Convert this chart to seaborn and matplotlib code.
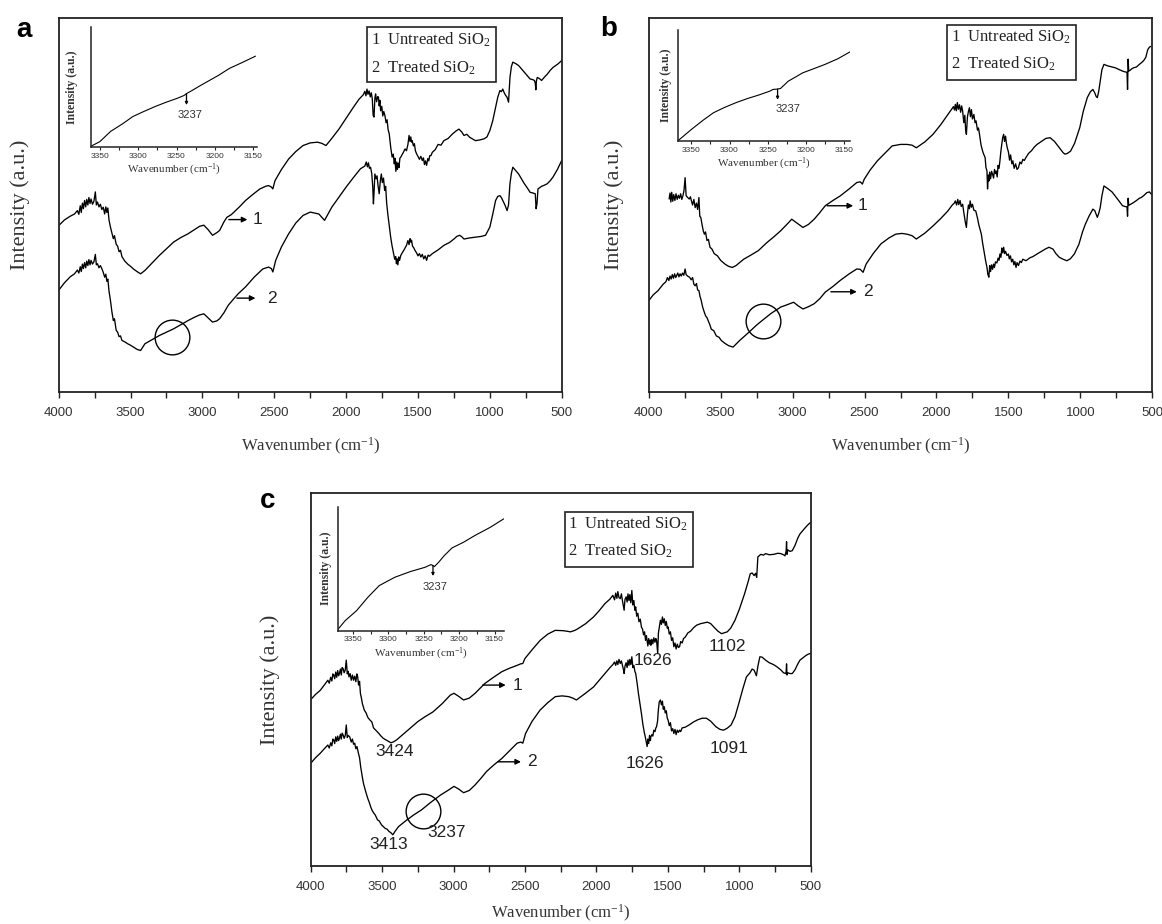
import matplotlib
matplotlib.use('Agg')
import matplotlib.pyplot as plt
import seaborn as sns
from matplotlib.patches import Rectangle
from matplotlib.ticker import MultipleLocator

# ---------------- data (wavenumber in cm-1, intensity in a.u.) ----------------
# panel a
A1_WN = [4000, 3960, 3920, 3890, 3870, 3860, 3850, 3843, 3835, 3828,
         3820, 3812, 3805, 3797, 3790, 3782, 3775, 3765, 3755, 3745,
         3738, 3730, 3720, 3710, 3700, 3690, 3680, 3672, 3665, 3658,
         3650, 3640, 3630, 3620, 3612, 3600, 3590, 3580, 3570, 3560,
         3540, 3520, 3500, 3480, 3455, 3430, 3400, 3350, 3300, 3250,
         3200, 3150, 3100, 3060, 3020, 2990, 2960, 2930, 2900, 2880,
         2850, 2830, 2800, 2780, 2740, 2700, 2650, 2600, 2560, 2540,
         2520, 2510, 2495, 2450, 2400, 2350, 2300, 2250, 2200, 2170,
         2140, 2100, 2050, 2000, 1950, 1910, 1880, 1870, 1862, 1855,
         1848, 1840, 1832, 1825, 1818, 1812, 1806, 1800, 1795, 1788,
         1780, 1775, 1770, 1765, 1760, 1752, 1745, 1738, 1730, 1722,
         1715, 1708, 1700, 1690, 1680, 1672, 1665, 1660, 1654, 1648,
         1643, 1638, 1632, 1626, 1620, 1610, 1600, 1590, 1580, 1570,
         1562, 1556, 1550, 1545, 1540, 1532, 1525, 1518, 1510, 1500,
         1490, 1480, 1470, 1462, 1455, 1448, 1440, 1432, 1425, 1418,
         1410, 1400, 1380, 1360, 1340, 1320, 1290, 1260, 1235, 1215,
         1195, 1180, 1160, 1140, 1100, 1070, 1040, 1020, 1000, 980,
         960, 945, 930, 920, 910, 900, 890, 880, 870, 860,
         850, 840, 820, 800, 780, 760, 740, 720, 700, 690,
         684, 680, 676, 670, 655, 640, 620, 600, 580, 560,
         530, 500]
A1_INT = [44.5, 46.0, 47.0, 47.6, 48.5, 47.5, 49.8, 48.0, 50.5, 49.0,
          51.2, 49.5, 51.5, 50.0, 52.0, 50.4, 51.6, 50.2, 51.0, 53.5,
          50.0, 50.8, 49.5, 50.2, 48.8, 49.4, 47.6, 49.5, 48.0, 49.2,
          46.0, 44.1, 42.5, 41.0, 41.8, 39.5, 39.0, 37.5, 37.9, 36.2,
          35.0, 34.2, 33.6, 32.9, 32.2, 31.6, 32.5, 34.5, 36.5, 38.3,
          40.1, 41.3, 42.3, 43.3, 44.3, 44.6, 43.4, 41.9, 42.6, 43.2,
          45.5, 46.7, 47.4, 48.1, 49.6, 51.2, 52.8, 54.3, 55.0, 55.2,
          54.8, 54.3, 56.5, 59.5, 62.3, 64.3, 65.9, 66.6, 66.8, 66.5,
          65.9, 67.8, 70.3, 73.2, 76.1, 78.3, 79.5, 80.4, 79.2, 81.0,
          79.6, 80.5, 78.9, 80.0, 78.4, 74.0, 73.5, 78.5, 79.7, 77.6,
          79.0, 78.8, 76.5, 78.0, 75.2, 76.4, 73.8, 75.0, 73.9, 72.0,
          72.8, 70.2, 69.0, 65.5, 62.8, 63.6, 61.0, 62.5, 59.0, 61.5,
          59.5, 61.2, 60.0, 62.5, 62.8, 63.5, 64.2, 65.0, 64.5, 66.2,
          68.6, 67.0, 68.2, 66.8, 67.2, 65.8, 66.4, 64.5, 63.7, 63.0,
          62.2, 63.0, 61.9, 62.6, 60.8, 61.8, 60.6, 62.4, 61.8, 63.2,
          63.2, 64.1, 64.8, 66.2, 66.0, 67.2, 67.8, 69.0, 69.8, 70.3,
          69.5, 68.6, 68.9, 68.1, 67.2, 67.4, 67.7, 68.2, 69.9, 72.5,
          76.1, 78.8, 80.6, 80.3, 81.0, 80.0, 79.3, 78.8, 77.5, 84.1,
          87.0, 88.2, 87.8, 87.3, 86.4, 85.5, 84.6, 83.7, 83.5, 83.3,
          82.6, 80.8, 83.2, 84.1, 83.8, 83.3, 84.2, 85.0, 86.0, 86.8,
          87.6, 88.6]

A2_WN = [4000, 3960, 3920, 3890, 3870, 3860, 3850, 3843, 3835, 3828,
         3820, 3812, 3805, 3797, 3790, 3782, 3775, 3765, 3755, 3745,
         3738, 3730, 3720, 3710, 3700, 3690, 3680, 3672, 3665, 3658,
         3650, 3640, 3630, 3620, 3612, 3600, 3590, 3580, 3570, 3560,
         3540, 3520, 3500, 3480, 3455, 3430, 3400, 3350, 3300, 3250,
         3200, 3150, 3100, 3060, 3020, 2990, 2960, 2930, 2900, 2880,
         2850, 2820, 2780, 2750, 2700, 2640, 2580, 2540, 2520, 2510,
         2490, 2450, 2400, 2350, 2300, 2250, 2190, 2150, 2100, 2050,
         2000, 1950, 1900, 1870, 1860, 1852, 1845, 1838, 1830, 1822,
         1815, 1810, 1805, 1800, 1792, 1785, 1778, 1770, 1762, 1755,
         1748, 1740, 1732, 1725, 1718, 1710, 1700, 1690, 1680, 1670,
         1662, 1655, 1650, 1645, 1640, 1634, 1628, 1620, 1610, 1600,
         1590, 1580, 1570, 1562, 1555, 1550, 1545, 1538, 1530, 1520,
         1510, 1500, 1490, 1480, 1470, 1460, 1450, 1440, 1430, 1420,
         1400, 1360, 1320, 1280, 1250, 1230, 1210, 1195, 1180, 1140,
         1100, 1060, 1030, 1000, 980, 960, 945, 930, 920, 910,
         895, 880, 870, 860, 850, 840, 820, 800, 780, 760,
         740, 720, 700, 684, 678, 672, 665, 640, 620, 600,
         580, 560, 530, 500]
A2_INT = [27.2, 29.2, 30.8, 31.6, 32.6, 31.8, 33.5, 32.2, 34.2, 33.0,
          34.6, 33.2, 35.0, 33.8, 35.4, 34.0, 35.2, 34.2, 34.8, 36.8,
          34.0, 34.3, 33.2, 33.8, 33.0, 32.0, 30.7, 31.5, 29.6, 30.2,
          27.0, 24.5, 21.5, 19.1, 19.6, 16.5, 16.0, 14.8, 15.0, 13.8,
          13.4, 12.9, 12.5, 12.0, 11.4, 11.1, 12.9, 14.0, 15.1, 16.0,
          16.9, 18.0, 19.1, 19.9, 20.6, 20.9, 19.8, 18.7, 19.0, 19.6,
          21.2, 23.2, 25.0, 26.3, 28.1, 30.7, 32.9, 33.4, 33.0, 32.1,
          35.2, 38.8, 42.3, 45.2, 47.2, 48.1, 47.6, 45.9, 49.4, 52.1,
          54.8, 57.3, 59.7, 60.4, 61.5, 60.2, 61.3, 59.8, 60.1, 58.5,
          55.0, 50.3, 54.0, 58.3, 57.0, 57.8, 55.2, 53.0, 56.5, 58.3,
          56.0, 57.2, 53.9, 55.0, 50.5, 47.6, 44.5, 41.4, 39.0, 37.0,
          35.5, 36.2, 34.3, 35.6, 34.0, 36.1, 35.2, 36.5, 37.2, 37.8,
          38.5, 39.2, 40.5, 39.4, 41.0, 40.1, 40.6, 39.0, 38.6, 37.8,
          37.2, 36.4, 37.0, 36.1, 36.8, 35.6, 36.4, 35.2, 36.6, 36.3,
          37.0, 38.0, 39.2, 40.0, 40.9, 41.6, 41.9, 41.5, 40.9, 41.2,
          41.4, 41.6, 41.9, 44.1, 47.5, 51.2, 52.3, 52.5, 52.0, 51.2,
          50.0, 48.5, 50.0, 55.7, 58.5, 60.1, 59.2, 58.3, 57.0, 55.7,
          54.6, 53.4, 53.2, 53.0, 49.0, 50.3, 54.3, 55.0, 55.3, 55.7,
          56.5, 57.5, 59.5, 61.9]

A_INSET_WN = [3362, 3350, 3336, 3320, 3307, 3292, 3278, 3264, 3249, 3240,
              3237, 3230, 3220, 3210, 3195, 3181, 3165, 3147]
A_INSET_INT = [0.5, 4.5, 13.0, 19.5, 25.4, 29.8, 33.7, 37.2, 40.6, 43.0,
               44.5, 47.0, 50.8, 54.4, 59.8, 65.5, 70.2, 75.7]

# panel b
B1_WN = [3858, 3852, 3846, 3840, 3833, 3826, 3818, 3810, 3802, 3794,
         3786, 3778, 3770, 3762, 3755, 3747, 3740, 3729, 3718, 3710,
         3703, 3695, 3686, 3677, 3668, 3660, 3651, 3645, 3638, 3628,
         3620, 3613, 3605, 3595, 3585, 3574, 3560, 3545, 3522, 3500,
         3470, 3445, 3419, 3393, 3340, 3290, 3238, 3180, 3130, 3083,
         3040, 3006, 2970, 2928, 2890, 2850, 2810, 2773, 2720, 2670,
         2610, 2554, 2530, 2515, 2502, 2460, 2411, 2360, 2308, 2250,
         2205, 2170, 2140, 2080, 2024, 1970, 1921, 1895, 1882, 1875,
         1869, 1862, 1855, 1848, 1840, 1832, 1825, 1818, 1810, 1803,
         1797, 1792, 1785, 1778, 1771, 1764, 1757, 1750, 1740, 1732,
         1725, 1715, 1708, 1701, 1690, 1680, 1672, 1662, 1656, 1649,
         1645, 1640, 1636, 1630, 1624, 1617, 1610, 1603, 1597, 1590,
         1585, 1578, 1572, 1565, 1559, 1552, 1546, 1540, 1533, 1527,
         1520, 1514, 1508, 1500, 1492, 1485, 1476, 1469, 1460, 1450,
         1440, 1430, 1420, 1410, 1400, 1390, 1378, 1360, 1340, 1320,
         1301, 1270, 1240, 1210, 1180, 1146, 1120, 1107, 1090, 1068,
         1040, 1004, 980, 952, 930, 913, 900, 890, 882, 872,
         862, 850, 836, 810, 780, 758, 730, 707, 690, 676,
         672, 668, 664, 655, 640, 629, 610, 590, 577, 560,
         545, 532, 520, 512]
B1_INT = [51.6, 53.2, 50.8, 53.4, 51.0, 52.8, 51.2, 53.0, 51.5, 52.6,
          51.8, 53.0, 51.5, 52.5, 53.8, 57.3, 52.5, 52.0, 51.6, 52.2,
          51.1, 50.0, 51.5, 49.3, 50.5, 48.8, 52.0, 47.0, 46.7, 44.5,
          43.0, 42.2, 42.8, 40.5, 40.8, 38.7, 38.2, 37.0, 36.4, 35.2,
          34.2, 33.6, 33.3, 33.8, 35.5, 36.6, 37.8, 39.9, 41.5, 43.1,
          44.8, 46.2, 45.2, 44.0, 44.8, 46.2, 48.0, 49.8, 51.2, 52.4,
          54.2, 56.0, 56.2, 55.6, 56.9, 59.4, 61.8, 63.8, 65.8, 66.2,
          66.2, 66.0, 65.3, 66.9, 68.9, 71.5, 74.2, 75.6, 76.3, 75.4,
          76.9, 75.2, 77.4, 75.6, 76.8, 74.8, 76.5, 75.1, 72.0, 74.0,
          70.0, 68.9, 73.5, 75.0, 76.0, 73.6, 75.5, 73.0, 74.2, 72.0,
          72.5, 70.0, 70.6, 68.9, 66.0, 64.5, 63.6, 62.7, 60.0, 59.1,
          54.3, 58.0, 56.4, 58.8, 57.0, 59.0, 58.2, 57.2, 59.5, 58.4,
          59.1, 57.5, 60.6, 59.8, 61.8, 64.5, 66.2, 68.0, 68.9, 67.0,
          68.4, 66.5, 65.3, 64.2, 62.0, 63.4, 61.0, 61.8, 59.8, 61.0,
          59.5, 60.0, 61.5, 61.0, 62.2, 61.9, 62.7, 63.8, 64.5, 65.5,
          66.2, 67.0, 67.8, 68.0, 67.0, 65.3, 64.0, 63.6, 63.8, 64.4,
          66.5, 70.7, 75.0, 78.7, 80.3, 80.9, 80.0, 79.0, 78.7, 80.5,
          83.1, 86.2, 87.6, 87.2, 86.9, 86.7, 86.2, 85.8, 85.6, 85.5,
          80.9, 89.0, 85.8, 86.0, 86.5, 86.7, 86.9, 87.6, 88.0, 88.6,
          89.5, 91.5, 92.2, 92.4]

B2_WN = [4000, 3968, 3935, 3900, 3880, 3870, 3860, 3852, 3844, 3836,
         3828, 3820, 3812, 3806, 3798, 3790, 3782, 3774, 3765, 3756,
         3747, 3740, 3730, 3716, 3705, 3695, 3686, 3677, 3668, 3660,
         3651, 3643, 3635, 3625, 3615, 3605, 3595, 3587, 3575, 3565,
         3548, 3530, 3510, 3496, 3470, 3445, 3430, 3414, 3390, 3367,
         3300, 3250, 3212, 3150, 3083, 3040, 2993, 2960, 2928, 2890,
         2850, 2810, 2773, 2720, 2670, 2610, 2554, 2530, 2510, 2489,
         2440, 2386, 2330, 2283, 2240, 2205, 2170, 2140, 2080, 2024,
         1970, 1921, 1890, 1876, 1869, 1860, 1852, 1845, 1836, 1828,
         1818, 1810, 1800, 1792, 1785, 1778, 1771, 1766, 1758, 1750,
         1740, 1727, 1715, 1705, 1697, 1688, 1680, 1672, 1665, 1658,
         1649, 1643, 1636, 1630, 1624, 1617, 1610, 1603, 1597, 1590,
         1580, 1572, 1565, 1559, 1552, 1546, 1540, 1533, 1527, 1520,
         1510, 1500, 1494, 1486, 1478, 1470, 1462, 1455, 1447, 1440,
         1430, 1420, 1410, 1400, 1378, 1350, 1330, 1301, 1270, 1240,
         1218, 1190, 1170, 1146, 1120, 1094, 1070, 1042, 1010, 985,
         965, 940, 913, 900, 890, 882, 872, 862, 850, 836,
         810, 780, 758, 730, 707, 690, 676, 672, 668, 664,
         650, 629, 610, 590, 577, 560, 538, 520, 510, 500]
B2_INT = [24.4, 26.0, 27.1, 28.8, 29.5, 30.6, 29.8, 31.0, 30.2, 31.4,
          30.4, 31.6, 30.6, 31.1, 31.8, 30.8, 31.6, 31.0, 31.8, 31.2,
          32.9, 31.4, 31.0, 30.7, 30.0, 30.6, 28.8, 28.4, 29.0, 27.3,
          27.1, 25.5, 24.5, 22.7, 21.5, 20.4, 19.9, 19.1, 18.0, 16.8,
          16.4, 15.0, 14.6, 13.8, 13.0, 12.4, 12.2, 12.0, 12.9, 13.8,
          16.1, 17.9, 19.1, 21.0, 22.7, 23.3, 24.0, 23.0, 22.2, 22.8,
          23.6, 25.0, 26.7, 28.2, 29.8, 31.5, 32.9, 32.8, 32.0, 34.2,
          37.0, 39.6, 41.2, 42.2, 42.4, 42.2, 41.8, 40.9, 42.5, 44.4,
          46.4, 48.4, 50.0, 50.5, 51.1, 50.0, 51.5, 50.1, 51.2, 49.6,
          50.2, 48.0, 45.5, 44.0, 47.5, 50.0, 49.0, 51.1, 49.4, 50.2,
          48.6, 48.4, 46.5, 44.6, 43.5, 42.2, 40.0, 38.2, 36.5, 35.0,
          33.3, 31.5, 30.7, 33.8, 32.2, 34.0, 32.8, 34.2, 33.3, 34.8,
          34.5, 35.8, 35.2, 36.9, 36.0, 38.5, 37.2, 38.7, 37.0, 37.6,
          36.5, 36.9, 35.6, 36.4, 34.8, 35.5, 34.0, 34.9, 33.3, 34.6,
          33.8, 35.0, 34.6, 35.5, 35.1, 35.9, 36.2, 36.9, 37.6, 38.3,
          38.7, 38.2, 37.0, 36.0, 35.5, 35.1, 35.6, 36.9, 39.5, 42.8,
          44.9, 47.0, 48.9, 48.5, 47.5, 46.7, 47.8, 49.3, 52.5, 55.1,
          54.4, 53.5, 52.4, 51.0, 49.8, 49.6, 49.5, 47.0, 51.8, 49.9,
          50.2, 50.7, 51.2, 51.8, 52.0, 52.5, 53.3, 53.5, 53.0, 52.9]

B_INSET_WN = [3367, 3350, 3335, 3321, 3307, 3292, 3277, 3262, 3247, 3243,
              3237, 3233, 3223, 3213, 3204, 3190, 3175, 3158, 3142]
B_INSET_INT = [0.6, 10.4, 18.5, 25.4, 30.0, 34.3, 38.0, 41.2, 44.8, 46.3,
               46.6, 47.2, 53.7, 57.6, 61.2, 64.8, 68.7, 73.8, 80.0]

# panel c
C1_WN = [4000, 3966, 3933, 3905, 3880, 3870, 3860, 3852, 3845, 3839,
         3832, 3825, 3818, 3811, 3805, 3799, 3792, 3786, 3780, 3773,
         3766, 3758, 3751, 3744, 3738, 3732, 3724, 3716, 3708, 3700,
         3692, 3684, 3677, 3671, 3665, 3658, 3652, 3645, 3638, 3625,
         3612, 3600, 3585, 3572, 3560, 3545, 3525, 3510, 3492, 3465,
         3438, 3418, 3398, 3350, 3304, 3250, 3200, 3144, 3080, 3023,
         2997, 2965, 2930, 2890, 2849, 2815, 2782, 2720, 2662, 2610,
         2555, 2530, 2515, 2501, 2450, 2394, 2340, 2288, 2230, 2181,
         2150, 2127, 2075, 2020, 1980, 1940, 1905, 1885, 1873, 1865,
         1857, 1850, 1842, 1833, 1825, 1818, 1810, 1806, 1800, 1792,
         1785, 1779, 1772, 1766, 1759, 1752, 1745, 1738, 1731, 1725,
         1718, 1710, 1702, 1693, 1685, 1677, 1670, 1663, 1656, 1650,
         1645, 1640, 1634, 1628, 1622, 1619, 1612, 1605, 1598, 1590,
         1584, 1579, 1575, 1571, 1566, 1560, 1552, 1545, 1538, 1532,
         1525, 1518, 1511, 1504, 1498, 1490, 1482, 1474, 1466, 1458,
         1450, 1442, 1434, 1426, 1418, 1410, 1400, 1390, 1378, 1360,
         1340, 1320, 1298, 1270, 1245, 1223, 1200, 1178, 1150, 1124,
         1100, 1084, 1060, 1030, 1000, 963, 940, 923, 910, 896,
         886, 878, 870, 850, 830, 816, 790, 760, 730, 709,
         690, 680, 672, 669, 666, 660, 645, 629, 610, 590,
         575, 555, 535, 518, 500]
C1_INT = [44.6, 46.0, 47.1, 48.5, 49.8, 49.0, 50.6, 49.6, 51.5, 51.2,
          50.2, 52.0, 50.6, 52.4, 51.0, 51.6, 52.8, 51.2, 53.2, 52.9,
          51.8, 52.6, 55.2, 51.5, 52.2, 50.7, 51.6, 49.8, 51.2, 49.8,
          50.9, 49.4, 51.5, 50.7, 48.5, 49.5, 46.3, 45.0, 43.5, 41.8,
          41.0, 39.8, 39.1, 38.6, 37.0, 36.4, 35.6, 34.9, 34.2, 33.6,
          33.0, 33.3, 33.8, 35.4, 36.9, 38.7, 40.0, 41.3, 43.5, 45.8,
          46.3, 45.5, 44.5, 45.0, 46.3, 47.6, 48.9, 50.6, 52.1, 53.0,
          53.8, 54.2, 54.3, 55.6, 58.0, 60.5, 62.2, 63.2, 63.1, 62.8,
          63.2, 63.7, 65.0, 66.8, 68.5, 70.4, 71.6, 72.6, 71.4, 73.2,
          71.8, 73.6, 72.0, 71.7, 73.0, 71.2, 69.5, 68.6, 71.5, 72.2,
          70.8, 73.0, 71.2, 72.8, 70.6, 73.9, 70.0, 71.2, 68.6, 69.5,
          67.0, 67.8, 65.5, 66.2, 64.1, 63.5, 62.0, 62.8, 60.5, 61.8,
          60.5, 59.0, 61.0, 59.5, 60.6, 59.2, 60.8, 59.6, 61.2, 60.0,
          61.0, 60.5, 58.6, 57.0, 62.5, 64.0, 65.9, 64.8, 66.8, 65.2,
          66.3, 64.5, 65.6, 63.8, 64.1, 62.2, 62.8, 60.5, 61.2, 58.8,
          59.8, 58.2, 59.5, 58.6, 58.8, 60.2, 59.8, 61.0, 61.4, 62.5,
          63.0, 63.9, 64.6, 65.0, 65.2, 65.4, 65.0, 64.1, 63.0, 62.3,
          62.6, 62.8, 63.8, 65.9, 68.8, 73.0, 76.0, 78.4, 78.6, 77.9,
          78.5, 77.4, 82.9, 83.6, 83.4, 83.8, 83.5, 83.6, 83.9, 83.8,
          83.5, 83.2, 84.5, 87.0, 83.6, 84.8, 84.4, 84.6, 86.0, 88.0,
          89.1, 90.0, 90.9, 91.6, 92.2]

C2_WN = [4000, 3966, 3933, 3905, 3880, 3870, 3860, 3852, 3845, 3839,
         3832, 3825, 3818, 3811, 3805, 3799, 3792, 3786, 3780, 3773,
         3766, 3758, 3751, 3744, 3738, 3727, 3716, 3708, 3700, 3692,
         3684, 3676, 3666, 3658, 3650, 3639, 3630, 3620, 3612, 3600,
         3590, 3580, 3572, 3560, 3548, 3532, 3520, 3505, 3492, 3478,
         3465, 3452, 3440, 3425, 3410, 3385, 3330, 3280, 3224, 3160,
         3090, 3040, 2997, 2965, 2930, 2890, 2849, 2810, 2769, 2720,
         2662, 2610, 2555, 2530, 2515, 2496, 2450, 2394, 2340, 2288,
         2240, 2194, 2165, 2140, 2080, 2020, 1980, 1940, 1905, 1885,
         1873, 1865, 1857, 1850, 1842, 1833, 1825, 1818, 1810, 1806,
         1800, 1792, 1785, 1779, 1772, 1766, 1759, 1752, 1745, 1738,
         1731, 1725, 1715, 1705, 1695, 1685, 1675, 1665, 1658, 1651,
         1645, 1640, 1634, 1628, 1622, 1619, 1612, 1605, 1598, 1590,
         1584, 1579, 1572, 1566, 1560, 1552, 1545, 1538, 1532, 1525,
         1518, 1511, 1504, 1498, 1490, 1482, 1474, 1466, 1458, 1450,
         1442, 1434, 1426, 1418, 1410, 1400, 1378, 1351, 1320, 1290,
         1260, 1230, 1200, 1163, 1135, 1110, 1085, 1057, 1030, 1003,
         975, 950, 925, 910, 896, 880, 870, 856, 840, 816,
         790, 760, 736, 710, 690, 676, 672, 669, 666, 660,
         645, 629, 610, 590, 575, 555, 535, 518, 500]
C2_INT = [27.5, 29.0, 30.2, 31.4, 32.4, 31.6, 33.0, 32.2, 34.0, 33.8,
          32.8, 34.6, 33.4, 34.8, 33.6, 34.2, 35.3, 34.0, 35.6, 35.1,
          34.2, 35.0, 37.8, 34.4, 35.0, 34.6, 33.2, 34.0, 32.6, 32.9,
          31.4, 32.0, 30.2, 29.0, 26.5, 23.9, 22.0, 20.6, 19.5, 18.0,
          17.0, 15.8, 15.0, 14.2, 13.6, 12.3, 12.0, 11.0, 10.5, 10.0,
          9.8, 9.2, 8.9, 8.3, 9.2, 10.5, 12.2, 13.6, 15.0, 17.0,
          19.0, 20.2, 21.3, 20.6, 19.6, 20.2, 21.7, 23.4, 25.3, 27.0,
          28.8, 30.8, 32.9, 33.2, 32.9, 35.5, 38.8, 41.8, 43.8, 45.4,
          45.6, 45.4, 45.0, 44.5, 46.2, 48.0, 49.8, 51.6, 53.2, 54.0,
          54.7, 53.8, 55.0, 54.0, 55.4, 54.3, 55.0, 53.8, 52.5, 51.6,
          53.6, 54.5, 53.2, 55.2, 53.8, 55.4, 54.0, 56.1, 53.2, 53.8,
          52.2, 51.6, 49.0, 46.0, 43.5, 40.9, 38.0, 35.8, 34.6, 33.2,
          32.0, 34.0, 32.8, 35.0, 33.6, 34.6, 35.2, 34.8, 36.4, 36.0,
          37.0, 37.3, 38.8, 42.0, 44.0, 44.5, 43.2, 44.2, 42.0, 42.7,
          41.0, 41.6, 39.6, 39.1, 37.6, 38.4, 36.2, 36.8, 35.5, 36.6,
          35.2, 36.4, 35.8, 36.4, 36.0, 37.0, 37.2, 37.8, 38.6, 39.2,
          39.6, 39.6, 38.8, 37.3, 36.6, 36.4, 36.9, 37.8, 40.0, 43.6,
          47.5, 50.7, 51.8, 52.8, 52.5, 51.0, 53.5, 56.1, 56.0, 55.2,
          54.5, 54.0, 53.4, 52.6, 51.8, 51.6, 52.0, 54.2, 51.2, 51.8,
          51.6, 51.6, 52.6, 54.2, 55.2, 55.8, 56.4, 56.8, 57.0]

C_INSET_WN = [3371, 3361, 3345, 3329, 3313, 3291, 3269, 3248, 3240, 3237,
              3235, 3229, 3221, 3210, 3194, 3178, 3156, 3137]
C_INSET_INT = [1.3, 8.1, 16.1, 26.9, 36.3, 43.0, 47.6, 51.1, 53.2, 52.5,
               51.6, 55.1, 60.5, 66.7, 71.2, 76.6, 83.3, 90.1]

LEGEND_LINES = ['1  Untreated SiO$_2$', '2  Treated SiO$_2$']

# arrows "-> 1", "-> 2": (start wn, end wn, intensity, label wn, label)
A_ARROWS = [(2816, 2687, 46.1, 2618, '1'), (2760, 2631, 25.1, 2515, '2')]
B_ARROWS = [(2760, 2579, 49.8, 2514, '1'), (2734, 2554, 26.8, 2476, '2')]
C_ARROWS = [(2796, 2635, 48.5, 2555, '1'), (2689, 2528, 27.9, 2448, '2')]
# circled region on curve 2
A_CIRCLE = (3210, 14.7)
B_CIRCLE = (3204, 19.1)
C_CIRCLE = (3211, 14.8)
# peak labels in panel c
C_PEAKS = [(3411, 30.6, '3424'), (3452, 5.6, '3413'), (3050, 8.8, '3237'),
           (1605, 55.2, '1626'), (1084, 58.8, '1102'),
           (1659, 27.5, '1626'), (1071, 31.5, '1091')]
# inset 3237 mark: (wn, top, bottom, label wn, label intensity)
A_MARK = (3237, 44.5, 35.0, 3232, 26.7)
B_MARK = (3237, 46.6, 37.0, 3223, 28.7)
C_MARK = (3237, 52.5, 44.0, 3234, 35.4)

# ---------------- style ----------------
sns.set_theme(style='ticks')
plt.rcParams['font.family'] = ['Liberation Sans', 'DejaVu Sans']
plt.rcParams['mathtext.fontset'] = 'custom'
plt.rcParams['mathtext.rm'] = 'Liberation Serif'
plt.rcParams['mathtext.it'] = 'Liberation Serif:italic'
plt.rcParams['mathtext.bf'] = 'Liberation Serif:bold'

SERIF = ['Liberation Serif', 'DejaVu Serif']
INK = '#222222'
W, H = 1162, 924

fig = plt.figure(figsize=(W / 100, H / 100), dpi=100)


def add_axes_px(left, right, top, bottom):
    return fig.add_axes([left / W, 1 - bottom / H, (right - left) / W, (bottom - top) / H])


def draw_main(ax, curves, arrows, circle, xpad, ypad):
    for wn, inten in curves:
        sns.lineplot(x=wn, y=inten, ax=ax, color='black', linewidth=0.95,
                     estimator=None, sort=False)
    ax.set_xlim(4000, 500)
    ax.set_ylim(0, 100)
    ax.xaxis.set_major_locator(MultipleLocator(500))
    ax.xaxis.set_minor_locator(MultipleLocator(250))
    ax.set_yticks([])
    ax.tick_params(axis='x', which='both', direction='out', length=4, width=1,
                   color=INK, bottom=True, top=False, labelsize=9.5,
                   labelcolor='#333333', pad=7)
    for sp in ax.spines.values():
        sp.set_visible(True)
        sp.set_linewidth(1.3)
        sp.set_color(INK)
    ax.set_xlabel('Wavenumber (cm$^{-1}$)', fontfamily=SERIF, fontsize=12,
                  color='#333333', labelpad=xpad)
    ax.set_ylabel('Intensity (a.u.)', fontfamily=SERIF, fontsize=16,
                  color='#333333', labelpad=ypad)
    for x0, x1, y, xt, lab in arrows:
        ax.annotate('', xy=(x1, y), xytext=(x0, y),
                    arrowprops=dict(arrowstyle='-|>', color='black', lw=1.0,
                                    mutation_scale=8, shrinkA=0, shrinkB=0))
        ax.text(xt, y, lab, fontsize=12.5, ha='center', va='center', color='#222222')
    ax.plot([circle[0]], [circle[1]], marker='o', ms=25, mfc='none',
            mec='black', mew=1.0, ls='none')


def draw_legend(ax, x0, y0, w, h, tx, ty1, ty2):
    ax.add_patch(Rectangle((x0, y0), w, h, transform=ax.transAxes, fill=False,
                           ec=INK, lw=1.2, zorder=5))
    for ty, line in zip((ty1, ty2), LEGEND_LINES):
        ax.text(tx, ty, line, transform=ax.transAxes, fontfamily=SERIF,
                fontsize=12, va='center', ha='left', color='#222222')


def draw_inset(ax, wn, inten, xlim, mark, ylabelpad):
    sns.lineplot(x=wn, y=inten, ax=ax, color='black', linewidth=0.8,
                 estimator=None, sort=False)
    ax.set_xlim(*xlim)
    ax.set_ylim(0, 100)
    ax.xaxis.set_major_locator(MultipleLocator(50))
    ax.xaxis.set_minor_locator(MultipleLocator(25))
    ax.set_yticks([])
    ax.tick_params(axis='x', which='both', direction='out', length=2.5, width=0.8,
                   color=INK, labelsize=6, labelcolor='#333333', pad=1.5)
    ax.spines['top'].set_visible(False)
    ax.spines['right'].set_visible(False)
    for side in ('left', 'bottom'):
        ax.spines[side].set_linewidth(1.1)
        ax.spines[side].set_color(INK)
    ax.set_facecolor('white')
    ax.set_xlabel('Wavenumber (cm$^{-1}$)', fontfamily=SERIF, fontsize=8,
                  color='#333333', labelpad=2)
    ax.set_ylabel('Intensity (a.u.)', fontfamily=SERIF, fontsize=8.5,
                  fontweight='bold', color='#333333', labelpad=ylabelpad)
    mwn, mtop, mbot, lwn, ly = mark
    ax.annotate('', xy=(mwn, mbot), xytext=(mwn, mtop),
                arrowprops=dict(arrowstyle='-|>', color='black', lw=0.9,
                                mutation_scale=4, shrinkA=0, shrinkB=0))
    ax.text(lwn, ly, '3237', fontsize=8, ha='center', va='center', color='#333333')


# panel a
ax_a = add_axes_px(58.7, 561.7, 18, 392)
draw_main(ax_a, [(A1_WN, A1_INT), (A2_WN, A2_INT)], A_ARROWS, A_CIRCLE, 12, 21)
draw_legend(ax_a, 0.613, 0.829, 0.2565, 0.147, 0.621, 0.941, 0.868)
in_a = add_axes_px(90.7, 257, 27, 147)
draw_inset(in_a, A_INSET_WN, A_INSET_INT, (3362, 3145), A_MARK, 9)

# panel b
ax_b = add_axes_px(648.7, 1152.3, 18, 392)
draw_main(ax_b, [(B1_WN, B1_INT), (B2_WN, B2_INT)], B_ARROWS, B_CIRCLE, 12, 18)
draw_legend(ax_b, 0.593, 0.833, 0.255, 0.148, 0.600, 0.951, 0.877)
in_b = add_axes_px(677.7, 850, 29.6, 141)
draw_inset(in_b, B_INSET_WN, B_INSET_INT, (3368, 3142), B_MARK, 4)

# panel c
ax_c = add_axes_px(310.7, 810.7, 493.3, 865.7)
draw_main(ax_c, [(C1_WN, C1_INT), (C2_WN, C2_INT)], C_ARROWS, C_CIRCLE, 7, 22)
draw_legend(ax_c, 0.5086, 0.801, 0.256, 0.148, 0.515, 0.919, 0.846)
for wn, y, lab in C_PEAKS:
    ax_c.text(wn, y, lab, fontsize=12.5, ha='center', va='center', color='#222222')
in_c = add_axes_px(337.5, 503.7, 506.6, 630.6)
draw_inset(in_c, C_INSET_WN, C_INSET_INT, (3372, 3137), C_MARK, 4)

# panel letters
for x, y, letter in [(24, 37, 'a'), (609, 36, 'b'), (268, 508, 'c')]:
    fig.text(x / W, 1 - y / H, letter, fontsize=20, fontweight='bold',
             ha='center', va='baseline', color='black')

fig.savefig('out.png', dpi=100, facecolor='white')
